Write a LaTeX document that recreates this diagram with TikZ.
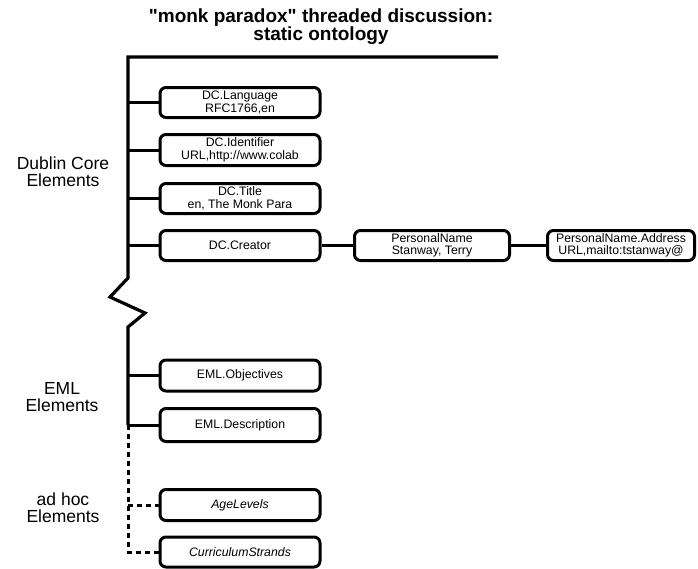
\documentclass[tikz,border=0pt]{standalone}
\usepackage{fontspec}
\setmainfont{Liberation Sans}
\usetikzlibrary{positioning}

\tikzset{
  elem/.style={draw, line width=3pt, rounded corners=6pt,
    minimum width=160pt, minimum height=30pt, inner sep=1pt,
    align=center, font=\fontsize{12.3}{12.5}\selectfont},
  group/.style={align=center, font=\fontsize{17.5}{17}\selectfont},
  trunk/.style={line width=3.2pt},
  branch/.style={line width=3pt},
  adhoc/.style={line width=3pt, dash pattern=on 5pt off 4pt},
}

\begin{document}
\begin{tikzpicture}[x=1pt,y=-1pt]
    \useasboundingbox (0,0) rectangle (698,568);
    \node[align=center, font=\bfseries\fontsize{19}{17}\selectfont] (title) at (321,26.5)
      {\textquotedbl monk paradox\textquotedbl{} threaded discussion:\\static ontology};

    % Dublin Core
    \node[elem] (dclang) at (240,102.5) {DC.Language\\RFC1766,en};
    \node[elem, minimum height=31pt] (dcid) at (240,150) {DC.Identifier\\URL,http://www.colab};
    \node[elem, minimum height=30pt] (dctitle) at (240,198.5) {DC.Title\\en, The Monk Para};
    \node[elem, minimum height=30pt] (dccreator) at (240,245.5) {DC.Creator};
    \node[elem, minimum height=30pt, minimum width=155pt] (pname) at (432,245.5)
      {PersonalName\\Stanway, Terry};
    \node[elem, minimum height=30pt, minimum width=147pt] (paddr) at (621,245.5)
      {PersonalName.Address\\URL,mailto:tstanway@};

    % EML
    \node[elem, minimum height=31pt] (emlobj) at (240,375.5) {EML.Objectives};
    \node[elem, minimum height=33pt] (emldesc) at (240,425) {EML.Description};

    % ad hoc
    \node[elem, minimum height=31pt, font=\itshape\fontsize{12.3}{12.5}\selectfont] (agelev) at (240,505) {AgeLevels};
    \node[elem, font=\itshape\fontsize{12.3}{12.5}\selectfont] (curric) at (240,552) {CurriculumStrands};

    \node[group] (dcgroup) at (63,172) {Dublin Core\\Elements};
    \node[group] (emlgroup) at (62,397) {EML\\Elements};
    \node[group] (adhocgroup) at (63,508) {ad hoc\\Elements};

    \coordinate (top) at (128,57);
    \coordinate (topend) at (498,57);
    \coordinate (brk) at (128,278);
    \draw[trunk] (topend) -- (top) -- (brk) -- ++(-18,19) -- ++(35,16) -- ++(-17,14)
      -- (emldesc.west -| top);
    \foreach \n in {dclang,dcid,dctitle,dccreator,emlobj,emldesc}
      \draw[branch] (\n.west -| top) -- (\n.west);
    \draw[branch] (dccreator) -- (pname);
    \draw[branch] (pname) -- (paddr);
    \draw[adhoc] (emldesc.west -| top) -- (curric.west -| top) -- (curric.west);
    \draw[adhoc] (agelev.west -| top) -- (agelev.west);
\end{tikzpicture}
\end{document}
